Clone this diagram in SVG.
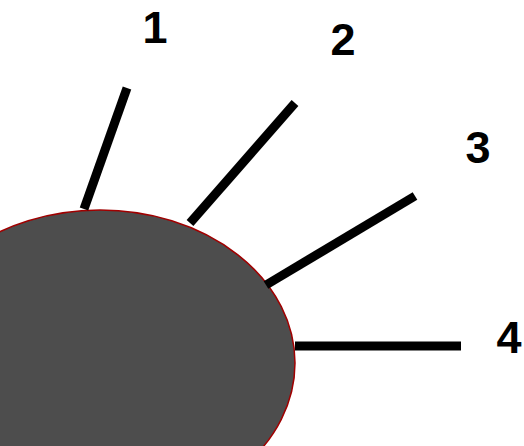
<svg xmlns="http://www.w3.org/2000/svg" width="524" height="446" viewBox="0 0 524 446">
<style>
.lbl{font-family:"Liberation Sans",Arial,sans-serif;font-weight:bold;font-size:45px;fill:#000;text-anchor:middle}
.ray{stroke:#000;stroke-width:9;fill:none}
</style>
<rect width="524" height="446" fill="#fff"/>
<g id="body">
<ellipse cx="100" cy="363" rx="195" ry="153" fill="#4d4d4d" stroke="#a00000" stroke-width="1.5"/>
</g>
<g id="connectors">
<line class="ray" x1="127" y1="88" x2="84" y2="209"/>
<line class="ray" x1="295" y1="103" x2="190" y2="223"/>
<line class="ray" x1="415" y1="196" x2="266" y2="285"/>
<line class="ray" x1="295" y1="346" x2="461" y2="346"/>
</g>
<g id="label1"><text class="lbl" x="155" y="43">1</text></g>
<g id="label2"><text class="lbl" x="343" y="55">2</text></g>
<g id="label3"><text class="lbl" x="478" y="163">3</text></g>
<g id="label4"><text class="lbl" x="509" y="353">4</text></g>
</svg>
